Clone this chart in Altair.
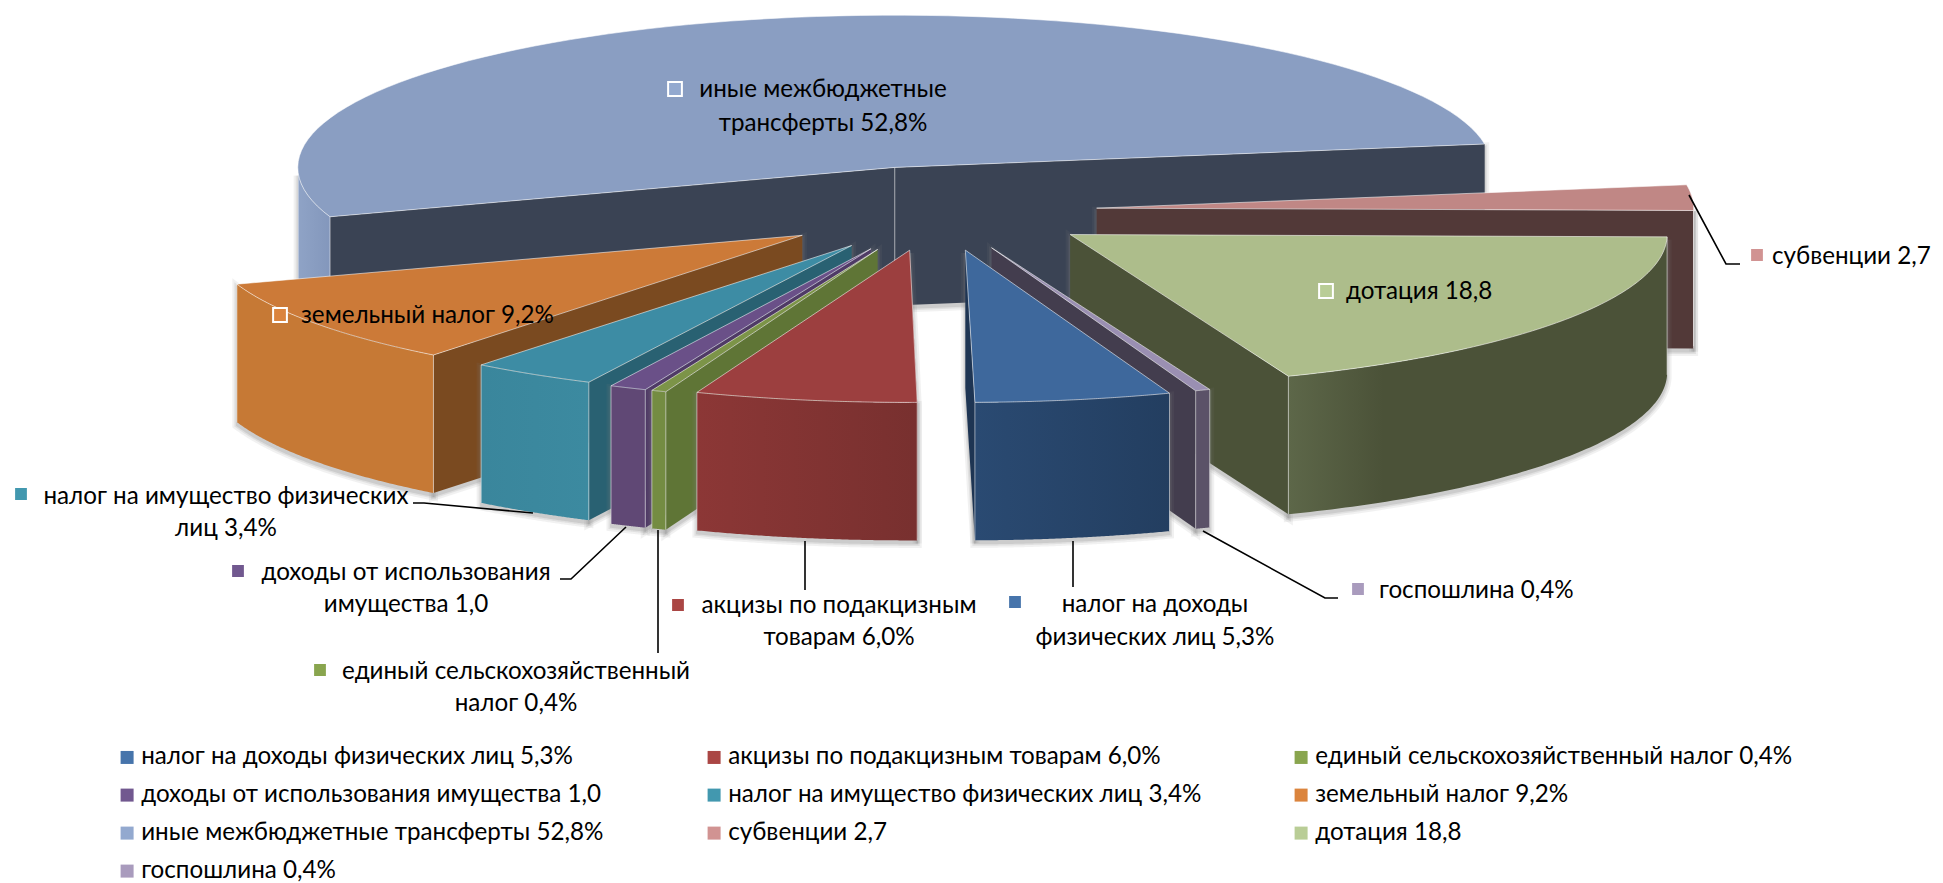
import math
import altair as alt

# ---- data ----
names = ["налог на доходы физических лиц 5,3%", "акцизы по подакцизным товарам 6,0%",
         "единый сельскохозяйственный налог 0,4%", "доходы от использования имущества 1,0",
         "налог на имущество физических лиц 3,4%", "земельный налог 9,2%",
         "иные межбюджетные трансферты 52,8%", "субвенции 2,7", "дотация 18,8", "госпошлина 0,4%"]
values = [5.3, 6.0, 0.4, 1.0, 3.4, 9.2, 52.8, 2.7, 18.8, 0.4]
legend_colors = ["#4674AB", "#AA4644", "#89A54E", "#71588F", "#4298AF", "#DB843D", "#93A9CF", "#D19392", "#B9CD96", "#A99BBD"]
top_colors = ["#3E689C", "#9C3F3F", "#7C9448", "#6A5088", "#3D8CA4", "#CC7A38", "#8A9EC2", "#C08785", "#ADBD8B", "#9A8FB2"]
wall_colors = ["#1E3553", "#6E2B2B", "#5F7536", "#4F3A66", "#296172", "#7A4A20", "#3A4354", "#523938", "#4B5238", "#433D4E"]
arc_left = ["#2A4A72", "#8C3736", "#748C42", "#604875", "#3A869C", "#C67935", "#8FA3C6", "#7E5554", "#5D6749", "#5B5268"]
arc_right = ["#233E60", "#78302F", "#748C42", "#604875", "#3C8AA0", "#C67935", "#8397BC", "#7E5554", "#4B5238", "#5B5268"]
fade_end = [1, 1, 1, 1, 1, 1, 1, 1, 0.25, 1]
explode = [156, 156, 162, 162, 160, 165, 176, 160, 162, 154]
nudge = [0, 0.2, 0.1, 0.1, 0.4, 0.2, 0, 0, 0, 0]

# layout of the tilted pie
FONT = "Lato"
FS = 24.2
START, CX, CY, R, TILT, DEPTH = 160.0, 937.0, 211.0, 597.0, 0.255, 138.0


def pt(ox, oy, ang, r):
    t = math.radians(ang)
    return [ox + r * math.sin(t), oy - r * TILT * math.cos(t)]


def shape(coords, kind="Polygon"):
    return {"type": "Feature", "properties": {},
            "geometry": {"type": kind, "coordinates": [coords] if kind == "Polygon" else coords}}


proj = alt.Projection(type="identity", scale=1, translate=[-8, -8])


def poly(coords, fill, stroke=None, sw=1.0, so=0.55, op=None):
    kw = {"fill": fill}
    if stroke:
        kw.update(stroke=stroke, strokeWidth=sw, strokeOpacity=so)
    else:
        kw.update(strokeWidth=0)
    if op is not None:
        kw["opacity"] = op
    return alt.Chart(alt.Data(values=[shape(coords + coords[:1])])).mark_geoshape(**kw).properties(projection=proj)


def line(coords, stroke="#000000", sw=1.6, so=1.0):
    return alt.Chart(alt.Data(values=[shape(coords, "LineString")])).mark_geoshape(
        filled=False, stroke=stroke, strokeWidth=sw, strokeOpacity=so).properties(projection=proj)


def halo(coords):
    out = []
    moved = [[x, y + 3] for x, y in coords]
    for sw, op in ((9, 0.10), (5, 0.14), (2, 0.2)):
        out.append(poly(moved, "#808080", stroke="#808080", sw=sw, so=1, op=op))
    return out


# angles of the slices
slices = []
ang = START
for i, v in enumerate(values):
    slices.append((i, ang + nudge[i], ang + nudge[i] + v * 3.6))
    ang += v * 3.6

layers = []
for i, a, b in sorted(slices, key=lambda s: -math.cos(math.radians((s[1] + s[2]) / 2))):
    mid = (a + b) / 2
    ox, oy = pt(CX, CY, mid, explode[i])
    apex = [ox, oy]
    arc = [pt(ox, oy, a + (b - a) * j / 90, R) for j in range(91)]
    walls = []
    if math.sin(math.radians(a)) < 0.02:
        e = arc[0]
        walls.append([apex, e, [e[0], e[1] + DEPTH], [ox, oy + DEPTH]])
    if math.sin(math.radians(b)) > -0.02:
        e = arc[-1]
        walls.append([apex, e, [e[0], e[1] + DEPTH], [ox, oy + DEPTH]])
    front = [p for j, p in enumerate(arc) if math.cos(math.radians(a + (b - a) * j / 90)) <= 0.0]
    if len(front) > 1:
        lower = [[x, y + DEPTH] for x, y in reversed(front)]
        outer = front + lower
    else:
        outer = None
    for w in walls:
        layers += halo(w)
    if outer:
        layers += halo(outer)
    for w in walls:
        layers.append(poly(w, wall_colors[i]))
    if len(walls) == 2 or (walls and outer is None):
        layers.append(line([apex, [ox, oy + DEPTH]], "#FFFFFF", 1, 0.5))
    if outer:
        grad = alt.Gradient(gradient="linear", x1=0, x2=1, y1=0, y2=0,
                            stops=[alt.GradientStop(color=arc_left[i], offset=0),
                                   alt.GradientStop(color=arc_right[i], offset=fade_end[i]),
                                   alt.GradientStop(color=arc_right[i], offset=1)])
        layers.append(poly(outer, grad))
        for p in (front[0], front[-1]):
            layers.append(line([p, [p[0], p[1] + DEPTH]], "#FFFFFF", 1, 0.5))
    layers.append(poly([apex] + arc, top_colors[i], stroke="#FFFFFF", sw=1, so=0.55))

# leader lines
leaders = [[[1689, 195], [1726, 264], [1740, 264]],
           [[533, 513], [424, 503], [413, 503]],
           [[626, 527], [571, 579], [560, 579]],
           [[658, 530], [658, 653]],
           [[805, 541], [805, 590]],
           [[1073, 541], [1073, 587]],
           [[1203, 531], [1325, 598], [1338, 598]]]
for c in leaders:
    layers.append(line(c))

# on-chart keys
keys = [(1015, 602, 0), (678, 605, 1), (320, 670, 2), (238, 571, 3), (21, 494, 4),
        (280, 315, 5), (675, 89, 6), (1757, 255, 7), (1326, 291, 8), (1358, 589, 9)]
key_rows = [{"lon": x, "lat": y, "name": names[i]} for x, y, i in keys]
layers.append(alt.Chart(alt.Data(values=key_rows)).mark_square(size=190, opacity=1, stroke="#FFFFFF", strokeWidth=2).encode(
    longitude="lon:Q", latitude="lat:Q",
    color=alt.Color("name:N", sort=names,
                    scale=alt.Scale(domain=names, range=legend_colors),
                    legend=alt.Legend(title=None, orient="none", legendX=107, legendY=737, columns=3,
                                      direction="horizontal", symbolType="square", symbolSize=169,
                                      symbolStrokeWidth=0, labelFont=FONT, labelFontSize=FS, labelColor="#000000",
                                      labelLimit=700, columnPadding=83, rowPadding=13, labelOffset=2,
                                      gridAlign="all", padding=0, symbolOpacity=1)),
).properties(projection=proj))

# on-chart labels
label_lines = [("иные межбюджетные", 823, 90, "center"), ("трансферты 52,8%", 823, 124, "center"),
               ("земельный налог 9,2%", 301, 316, "left"), ("дотация 18,8", 1346, 292, "left"),
               ("субвенции 2,7", 1772, 257, "left"),
               ("налог на имущество физических", 226, 497, "center"), ("лиц 3,4%", 226, 529, "center"),
               ("доходы от использования", 406, 573, "center"), ("имущества 1,0", 406, 605, "center"),
               ("единый сельскохозяйственный", 516, 672, "center"), ("налог 0,4%", 516, 704, "center"),
               ("акцизы по подакцизным", 839, 606, "center"), ("товарам 6,0%", 839, 638, "center"),
               ("налог на доходы", 1155, 605, "center"), ("физических лиц 5,3%", 1155, 638, "center"),
               ("госпошлина 0,4%", 1379, 591, "left")]
for al in ("center", "left"):
    rows = [{"t": t, "lon": x, "lat": y} for t, x, y, a in label_lines if a == al]
    layers.append(alt.Chart(alt.Data(values=rows)).mark_text(
        font=FONT, fontSize=FS, color="#000000", align=al, baseline="middle").encode(
        longitude="lon:Q", latitude="lat:Q", text="t:N").properties(projection=proj))

chart = alt.layer(*layers).properties(width=1927, height=875, padding=0, autosize="none", background="#FFFFFF"
                                      ).configure_view(stroke=None)
chart.save("out.html", embed_options={"renderer": "svg", "actions": False})
